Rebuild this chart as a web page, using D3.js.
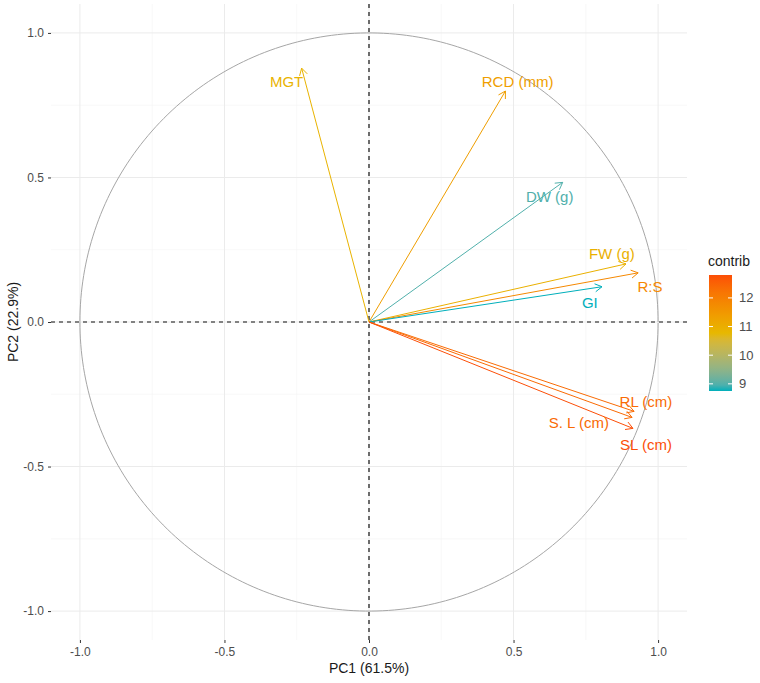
<!DOCTYPE html>
<html>
<head>
<meta charset="utf-8">
<script src="https://cdn.jsdelivr.net/npm/d3@7"></script>
<style>
  body { margin: 0; background: #fff; }
  svg { font-family: "Liberation Sans", Arial, sans-serif; }
</style>
</head>
<body>
<div id="wrapper"></div>
<script>
// variables and their loadings on PC1 / PC2
const variables = ["MGT", "RCD (mm)", "DW (g)", "FW (g)", "R:S", "GI", "RL (cm)", "S. L (cm)", "SL (cm)"];
const pc1 = [-0.233, 0.472, 0.670, 0.889, 0.931, 0.806, 0.917, 0.910, 0.913];
const pc2 = [0.878, 0.799, 0.483, 0.201, 0.170, 0.122, -0.309, -0.330, -0.368];
const contrib = [10.86, 11.33, 8.98, 10.93, 11.79, 8.75, 12.32, 12.33, 12.75];
// where the (repelled) labels sit, in data units
const labelX = [-0.285, 0.514, 0.625, 0.840, 0.972, 0.764, 0.958, 0.726, 0.958];
const labelY = [0.833, 0.833, 0.434, 0.236, 0.122, 0.069, -0.274, -0.347, -0.424];
const axisTicks = [-1, -0.5, 0, 0.5, 1];
const minorTicks = [-0.75, -0.25, 0.25, 0.75];
const legendTicks = [9, 10, 11, 12];
const contribRange = [8.75, 12.75];

const data = variables.map((v, i) => ({
    name: v, x: pc1[i], y: pc2[i], c: contrib[i], lx: labelX[i], ly: labelY[i]
}));

const dimension = {
    width: 760,
    height: 683,
    panel: { left: 51, right: 687, top: 4, bottom: 640 }
};

const svg = d3.select("#wrapper").append("svg")
    .attr("width", dimension.width)
    .attr("height", dimension.height);

const x = d3.scaleLinear().domain([-1.1, 1.1]).range([dimension.panel.left, dimension.panel.right]);
const y = d3.scaleLinear().domain([-1.1, 1.1]).range([dimension.panel.bottom, dimension.panel.top]);

const mid = (contribRange[0] + contribRange[1]) / 2;
const color = d3.scaleLinear()
    .domain([contribRange[0], mid, contribRange[1]])
    .range(["#00AFBB", "#E7B800", "#FC4E07"])
    .interpolate(d3.interpolateLab);

// hyphen minus like R prints it
const fmt = d => d.toFixed(1);

// grid
const grid = svg.append("g");
grid.selectAll(".minx").data(minorTicks).join("line")
    .attr("x1", d => x(d)).attr("x2", d => x(d))
    .attr("y1", dimension.panel.top).attr("y2", dimension.panel.bottom)
    .attr("stroke", "#f3f3f3").attr("stroke-width", 0.6);
grid.selectAll(".miny").data(minorTicks).join("line")
    .attr("y1", d => y(d)).attr("y2", d => y(d))
    .attr("x1", dimension.panel.left).attr("x2", dimension.panel.right)
    .attr("stroke", "#f3f3f3").attr("stroke-width", 0.6);
grid.selectAll(".majx").data(axisTicks).join("line")
    .attr("x1", d => x(d)).attr("x2", d => x(d))
    .attr("y1", dimension.panel.top).attr("y2", dimension.panel.bottom)
    .attr("stroke", "#ebebeb").attr("stroke-width", 1);
grid.selectAll(".majy").data(axisTicks).join("line")
    .attr("y1", d => y(d)).attr("y2", d => y(d))
    .attr("x1", dimension.panel.left).attr("x2", dimension.panel.right)
    .attr("stroke", "#ebebeb").attr("stroke-width", 1);

// axes
const xAxis = d3.axisBottom(x).tickValues(axisTicks).tickFormat(fmt).tickSize(3).tickPadding(4);
const yAxis = d3.axisLeft(y).tickValues(axisTicks).tickFormat(fmt).tickSize(3).tickPadding(4);

const gx = svg.append("g").attr("transform", `translate(0,${dimension.panel.bottom})`).call(xAxis);
const gy = svg.append("g").attr("transform", `translate(${dimension.panel.left},0)`).call(yAxis);
[gx, gy].forEach(g => {
    g.select(".domain").remove();
    g.selectAll(".tick line").attr("stroke", "#333");
    g.selectAll(".tick text").attr("fill", "#4d4d4d").style("font-size", "12px")
        .style("font-family", "Liberation Sans, Arial, sans-serif");
});

svg.append("text")
    .attr("x", x(0)).attr("y", 673)
    .attr("text-anchor", "middle")
    .attr("font-size", 14).attr("fill", "#1a1a1a")
    .text("PC1 (61.5%)");
svg.append("text")
    .attr("transform", `translate(18,${y(0)}) rotate(-90)`)
    .attr("text-anchor", "middle")
    .attr("font-size", 14).attr("fill", "#1a1a1a")
    .text("PC2 (22.9%)");

// circle of correlations
const circle = d3.line().x(d => x(Math.cos(d))).y(d => y(Math.sin(d)));
svg.append("path")
    .attr("d", circle(d3.range(0, 2 * Math.PI + 0.01, 0.02)))
    .attr("fill", "none")
    .attr("stroke", "#a6a6a6")
    .attr("stroke-width", 1);

// reference lines
svg.append("line")
    .attr("x1", x(0)).attr("x2", x(0))
    .attr("y1", dimension.panel.top).attr("y2", dimension.panel.bottom)
    .attr("stroke", "#111").attr("stroke-width", 1.2).attr("stroke-dasharray", "4,4");
svg.append("line")
    .attr("y1", y(0)).attr("y2", y(0))
    .attr("x1", dimension.panel.left).attr("x2", dimension.panel.right)
    .attr("stroke", "#111").attr("stroke-width", 1.2).attr("stroke-dasharray", "4,4");

// arrows
const arrows = svg.append("g");
const headLen = 8, headAngle = Math.PI / 6;
data.forEach(d => {
    const x0 = x(0), y0 = y(0), x1 = x(d.x), y1 = y(d.y);
    const a = Math.atan2(y1 - y0, x1 - x0);
    const col = color(d.c);
    arrows.append("line")
        .attr("x1", x0).attr("y1", y0).attr("x2", x1).attr("y2", y1)
        .attr("stroke", col).attr("stroke-width", 1);
    const head = d3.path();
    head.moveTo(x1 - headLen * Math.cos(a - headAngle), y1 - headLen * Math.sin(a - headAngle));
    head.lineTo(x1, y1);
    head.lineTo(x1 - headLen * Math.cos(a + headAngle), y1 - headLen * Math.sin(a + headAngle));
    arrows.append("path")
        .attr("d", head.toString())
        .attr("fill", "none").attr("stroke", col).attr("stroke-width", 1);
});

// labels
svg.append("g").selectAll("text").data(data).join("text")
    .attr("x", d => x(d.lx)).attr("y", d => y(d.ly))
    .attr("text-anchor", "middle")
    .attr("dominant-baseline", "central")
    .attr("font-size", 15)
    .attr("fill", d => color(d.c))
    .text(d => d.name);

// legend
const legend = svg.append("g");
const barTop = 275, barBottom = 391, barLeft = 709, barW = 23;
const ly = d3.scaleLinear().domain([contribRange[0], contribRange[1] + 0.05]).range([barBottom, barTop]);

const defs = svg.append("defs");
const grad = defs.append("linearGradient").attr("id", "cgrad")
    .attr("x1", 0).attr("y1", 1).attr("x2", 0).attr("y2", 0);
d3.range(0, 1.0001, 0.05).forEach(t => {
    grad.append("stop").attr("offset", t)
        .attr("stop-color", color(contribRange[0] + t * (contribRange[1] - contribRange[0])));
});

legend.append("text")
    .attr("x", barLeft - 1).attr("y", 266)
    .attr("font-size", 14).attr("fill", "#1a1a1a")
    .text("contrib");
legend.append("rect")
    .attr("x", barLeft).attr("y", barTop)
    .attr("width", barW).attr("height", barBottom - barTop)
    .attr("fill", "url(#cgrad)");
legendTicks.forEach(t => {
    legend.append("line").attr("x1", barLeft).attr("x2", barLeft + 4)
        .attr("y1", ly(t)).attr("y2", ly(t)).attr("stroke", "#fff").attr("stroke-width", 1);
    legend.append("line").attr("x1", barLeft + barW - 4).attr("x2", barLeft + barW)
        .attr("y1", ly(t)).attr("y2", ly(t)).attr("stroke", "#fff").attr("stroke-width", 1);
    legend.append("text")
        .attr("x", barLeft + barW + 7).attr("y", ly(t))
        .attr("dominant-baseline", "central")
        .attr("font-size", 13).attr("fill", "#4d4d4d")
        .text(t);
});
</script>
</body>
</html>
